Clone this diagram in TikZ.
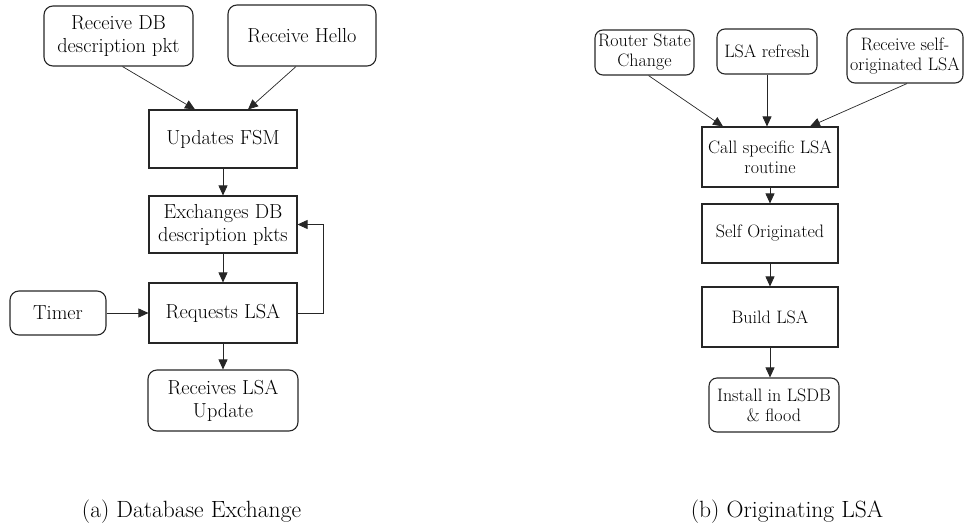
\documentclass[tikz,border=0pt]{standalone}
\usetikzlibrary{arrows.meta}

\begin{document}
\begin{tikzpicture}%
	[x=1pt, y=-1pt,
	box/.style={draw=black!85, line width=1.1pt, align=center, inner sep=1pt, font=\fontsize{20.3}{23}\selectfont},
	rbox/.style={box, rounded corners=9pt},
	sbox/.style={box, font=\fontsize{18}{20}\selectfont},
	srbox/.style={sbox, rounded corners=8pt},
	arr/.style={-{Triangle[length=10pt,width=9pt]}, line width=0.7pt, draw=black!85},
	captext/.style={font=\fontsize{23.5}{26}\selectfont}]
%
\useasboundingbox (0,0) rectangle (965,527);
%%
%% (a) Database Exchange
%%
\node[rbox, minimum width=149pt, minimum height=60pt] (rdb) at (118.5,36) {Receive DB\\description pkt};
\node[rbox, minimum width=148pt, minimum height=61pt] (hello) at (302,35.5) {Receive Hello};
\node[box, minimum width=148pt, minimum height=58pt] (fsm) at (223,139) {Updates FSM};
\node[box, minimum width=148pt, minimum height=57pt] (exch) at (223,224.5) {Exchanges DB\\description pkts};
\node[box, minimum width=148pt, minimum height=60pt] (req) at (223,313) {Requests LSA};
\node[rbox, minimum width=96pt, minimum height=44pt] (timer) at (58,313) {Timer};
\node[rbox, minimum width=150pt, minimum height=61pt] (rcv) at (223,400.5) {Receives LSA\\Update};
%%
\draw[arr] ([xshift=4pt]rdb.south) -- ([xshift=-28pt]fsm.north);
\draw[arr] ([xshift=-6pt]hello.south) -- ([xshift=25pt]fsm.north);
\draw[arr] (fsm) -- (exch);
\draw[arr] (exch) -- (req);
\draw[arr] (timer) -- (req);
\draw[arr] (req.east) -- ++(26,0) |- (exch.east);
\draw[arr] (req) -- (rcv);
%%
%% (b) Originating LSA
%%
\node[srbox, minimum width=99pt, minimum height=45pt] (rsc) at (644.5,52.5) {Router State\\Change};
\node[srbox, minimum width=100pt, minimum height=45pt] (lref) at (767,51.5) {LSA refresh};
\node[srbox, minimum width=116pt, minimum height=54pt, inner sep=0pt] (rself) at (905,56) {Receive self-\\originated LSA};
\node[sbox, minimum width=136pt, minimum height=60pt] (call) at (770,157) {Call specific LSA\\routine};
\node[sbox, minimum width=136pt, minimum height=59pt] (self) at (770,233.5) {Self Originated};
\node[sbox, minimum width=136pt, minimum height=60pt] (build) at (770,317) {Build LSA};
\node[srbox, minimum width=130pt, minimum height=54pt] (inst) at (774,405) {Install in LSDB\\\& flood};
%%
\draw[arr] ([xshift=4pt]rsc.south) -- ([xshift=-47pt]call.north);
\draw[arr] (lref.south) -- (lref.south |- call.north);
\draw[arr] ([xshift=2pt]rself.south) -- ([xshift=40pt]call.north);
\draw[arr] (call) -- (self);
\draw[arr] (self) -- (build);
\draw[arr] (build.south) -- (build.south |- inst.north);
%%
%% Captions
%%
\node[captext] (capa) at (191.5,512) {(a) Database Exchange};
\node[captext] (capb) at (787,512) {(b) Originating LSA};
%%
\end{tikzpicture}
\end{document}
